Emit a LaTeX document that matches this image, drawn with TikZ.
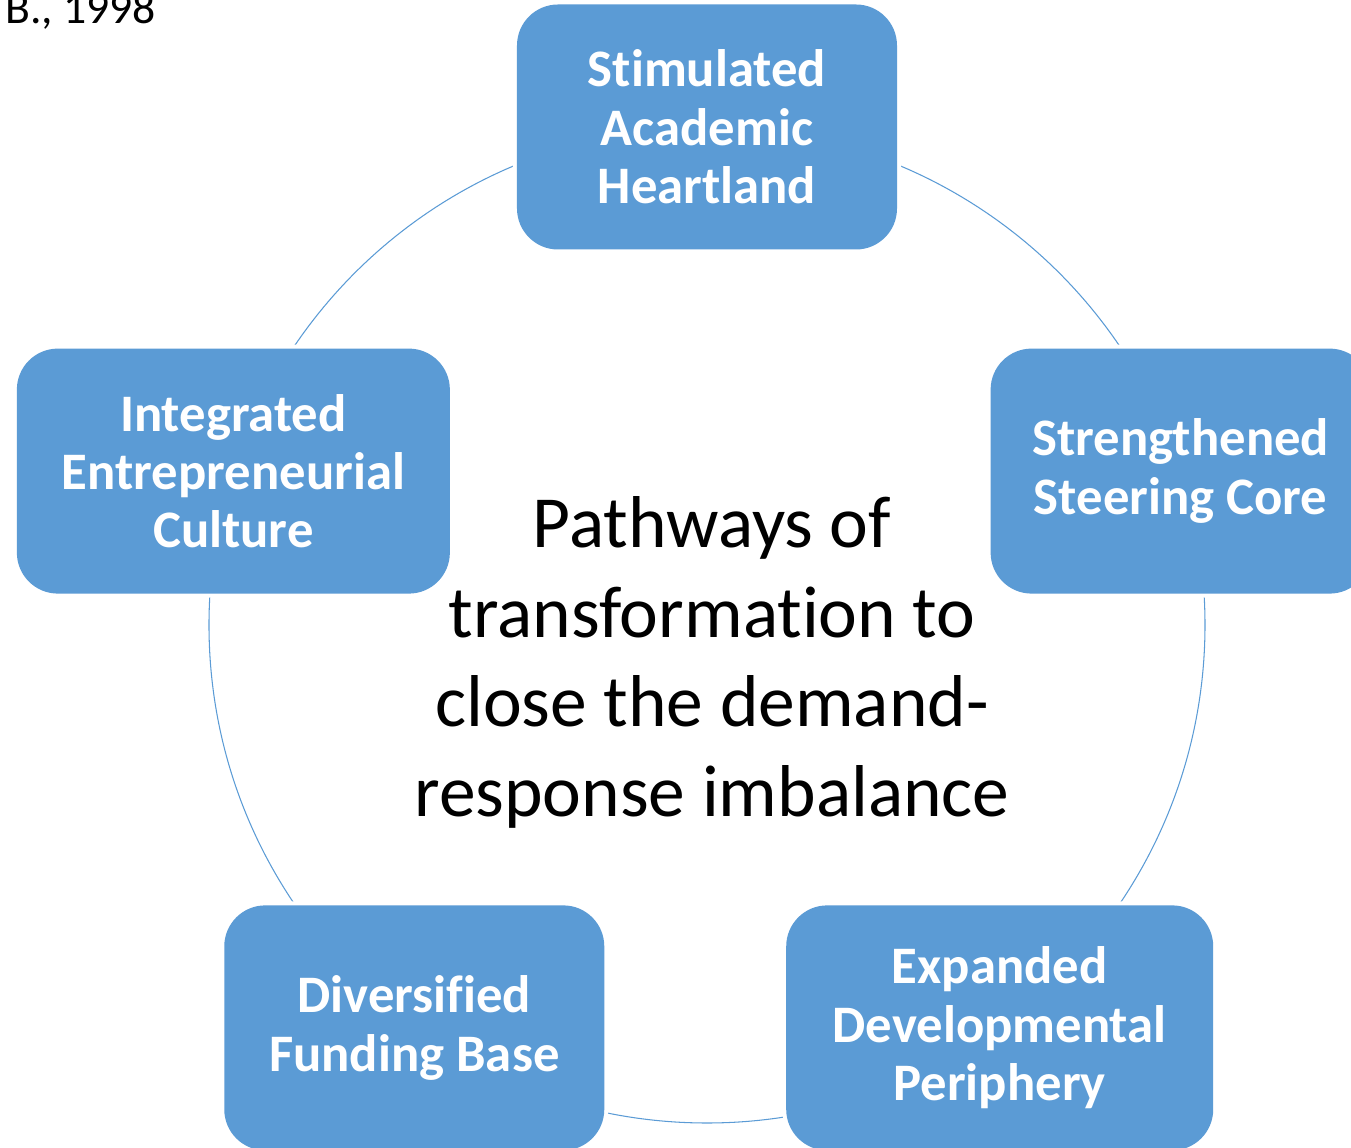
\documentclass[tikz,border=0pt]{standalone}
\usepackage{fontspec}
\setmainfont{Carlito}[Ligatures={NoCommon}]
\definecolor{pathblue}{RGB}{91,155,213}

\begin{document}
\begin{tikzpicture}[line cap=round,line join=round,
  pillar/.style={rectangle,rounded corners=0.82cm,fill=pathblue,
   preaction={draw=white,line width=0.16cm},
   minimum width=7.6cm,minimum height=4.9cm,inner sep=0pt,
   text=white,align=center,
   font=\fontsize{30}{33.2}\selectfont\bfseries}]
 \useasboundingbox (-14.14,-10.46) rectangle (12.88,12.5);
 % ring behind the five boxes
 \coordinate (hub) at (0,0);
 \draw[pathblue,line width=0.6pt] (hub) circle (9.96);
 \node[pillar] (heart) at (90:9.96)
  {Stimulated\\Academic\\Heartland};
 \node[pillar] (core) at (18:9.96)
  {Strengthened\\Steering Core};
 \node[pillar,minimum width=8.54cm] (periph) at (-54:9.96)
  {Expanded\\Developmental\\Periphery};
 \node[pillar] (fund) at (-126:9.96)
  {Diversified\\Funding Base};
 \node[pillar,minimum width=8.66cm] (culture) at (162:9.96)
  {Integrated\\Entrepreneurial\\Culture};
 \node[font=\fontsize{41.8}{51}\selectfont,align=center,inner sep=0pt]
  (aim) at (0.1,-0.75)
  {Pathways of\\transformation to\\close the demand-\\response imbalance};
 \node[anchor=base west,font=\fontsize{26}{31}\selectfont,inner sep=0pt]
  (src) at (-14.04,12.02) {B., 1998};
\end{tikzpicture}
\end{document}
